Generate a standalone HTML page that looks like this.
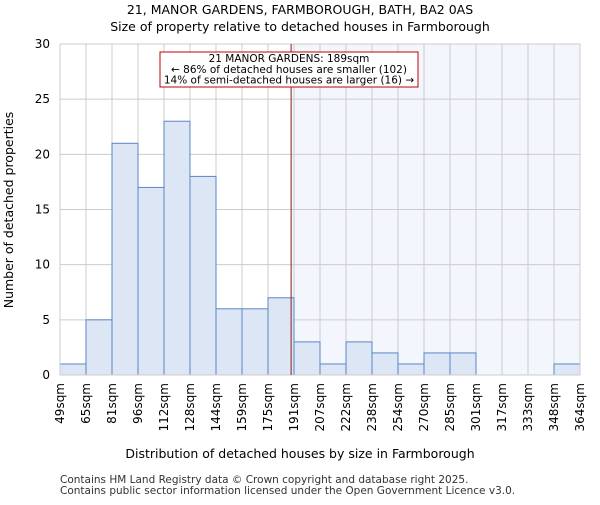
<!DOCTYPE html>
<html><head><meta charset="utf-8"><style>
body{margin:0;background:#fff;font-family:"Liberation Sans","DejaVu Sans",sans-serif;}
svg text{font-family:"DejaVu Sans","Liberation Sans",sans-serif;}
</style></head><body>
<svg id="c" width="600" height="500" xmlns="http://www.w3.org/2000/svg">
<text x="300" y="14" text-anchor="middle" font-size="12.5">21, MANOR GARDENS, FARMBOROUGH, BATH, BA2 0AS</text>
<text x="300" y="31" text-anchor="middle" font-size="12.5">Size of property relative to detached houses in Farmborough</text>
<g id="plot"></g>
<text x="300" y="458" text-anchor="middle" font-size="12.5">Distribution of detached houses by size in Farmborough</text>
<text transform="translate(13,210) rotate(-90)" text-anchor="middle" font-size="12.5">Number of detached properties</text>
<text x="60" y="483" font-size="10.5" fill="#333">Contains HM Land Registry data © Crown copyright and database right 2025.</text>
<text x="60" y="494" font-size="10.5" fill="#333">Contains public sector information licensed under the Open Government Licence v3.0.</text>
</svg>
<script>
const categories=["49sqm","65sqm","81sqm","96sqm","112sqm","128sqm","144sqm","159sqm","175sqm","191sqm","207sqm","222sqm","238sqm","254sqm","270sqm","285sqm","301sqm","317sqm","333sqm","348sqm","364sqm"];
const counts=[1,5,21,17,23,18,6,6,7,3,1,3,2,1,2,2,0,0,0,1];
const yTicks=[0,5,10,15,20,25,30];
const binStart=49, binWidth=15.75, propertySize=189;
const L=60,R=580,T=44,B=375,yMax=30;
const ns="http://www.w3.org/2000/svg";
const g=document.getElementById('plot');
const xs=i=>L+i*(R-L)/counts.length;
const ys=v=>B-v*(B-T)/yMax;
const xv=s=>L+(s-binStart)/binWidth*(R-L)/counts.length;
function mk(t,a){const e=document.createElementNS(ns,t);for(const k in a)e.setAttribute(k,a[k]);g.appendChild(e);return e;}
const px=xv(propertySize);
let e=mk('rect',{x:px,y:T,width:R-px,height:B-T,fill:'#f4f6fd'});


yTicks.forEach(v=>{
 let l=mk('line',{x1:L,x2:R,y1:ys(v),y2:ys(v),stroke:'#ccc','stroke-width':1});
 
 
 let t=mk('text',{x:L-10,y:ys(v)+4,'text-anchor':'end','font-size':12});
 t.textContent=v;
 
 
});
categories.forEach((c,i)=>{
 let l=mk('line',{x1:xs(i),x2:xs(i),y1:T,y2:B,stroke:'#ccc','stroke-width':1});
 
 
 let t=mk('text',{transform:`translate(${xs(i)+4},${B+8}) rotate(-90)`,'text-anchor':'end','font-size':12});
 t.textContent=c;
 
 
});
counts.forEach((v,i)=>{
 if(v<=0)return;
 let r=mk('rect',{x:xs(i),y:ys(v),width:xs(i+1)-xs(i),height:B-ys(v),fill:'#dce6f5',stroke:'#5a86c5','stroke-width':1});
 
 
});
e=mk('rect',{x:L,y:T,width:R-L,height:B-T,fill:'none',stroke:'#ccc'});


e=mk('line',{x1:px,x2:px,y1:T,y2:B,stroke:'#8b1a1a','stroke-width':1});


e=mk('rect',{x:160,y:52,width:258,height:35,fill:'#fff',stroke:'#c00000','stroke-width':1});


["21 MANOR GARDENS: 189sqm","← 86% of detached houses are smaller (102)","14% of semi-detached houses are larger (16) →"].forEach((s,i)=>{
 let t=mk('text',{x:289,y:62+i*10.8,'text-anchor':'middle','font-size':10.5});
 t.textContent=s;
 
 
});
</script>
</body></html>
